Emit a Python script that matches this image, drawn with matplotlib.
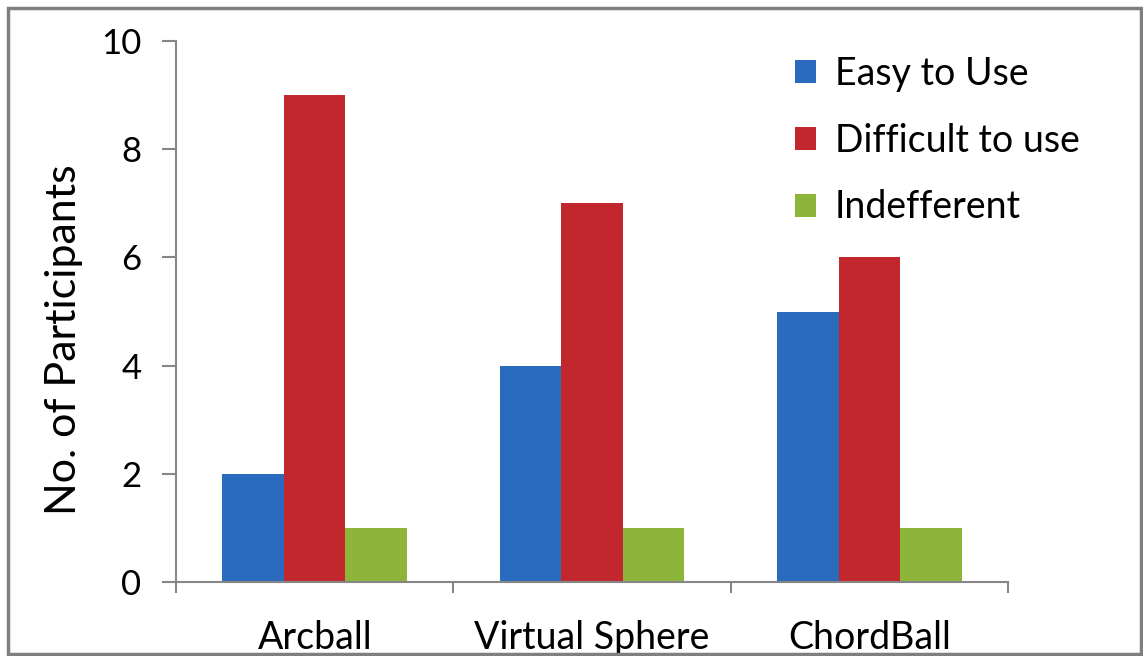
import numpy as np
import matplotlib
matplotlib.use("Agg")
import matplotlib.pyplot as plt
from matplotlib.patches import Rectangle

plt.rcParams['font.family'] = ['Lato', 'DejaVu Sans']

# survey results per rotation technique
techniques = ['Arcball', 'Virtual Sphere', 'ChordBall']
easy = [2, 4, 5]
difficult = [9, 7, 6]
indifferent = [1, 1, 1]
series_names = ['Easy to Use', 'Difficult to use', 'Indefferent']
colors = ['#2B6BBE', '#C1272D', '#8CB53A']
yticks = [0, 2, 4, 6, 8, 10]

fig = plt.figure(figsize=(11.43, 6.56), dpi=100)
ax = fig.add_axes([0.154, 0.1128, 0.728, 0.8247])

x = np.arange(len(techniques))
w = 0.222
for i, (vals, name, c) in enumerate(zip([easy, difficult, indifferent], series_names, colors)):
    ax.bar(x + (i - 1) * w, vals, width=w, color=c, label=name, linewidth=0)

ax.set_xlim(-0.5, len(techniques) - 0.5)
ax.set_ylim(0, 10)
ax.set_yticks(yticks)
ax.set_yticklabels([str(v) for v in yticks], fontsize=25)

# category ticks sit on the boundaries, labels in the middle
ax.set_xticks(np.arange(len(techniques) + 1) - 0.5)
ax.set_xticklabels([])
ax.set_xticks(x, minor=True)
ax.set_xticklabels(techniques, minor=True, fontsize=27)
ax.tick_params(axis='x', which='minor', length=0, pad=27)
ax.tick_params(axis='x', which='major', length=8, width=1.5, color='#868686', direction='out')
ax.tick_params(axis='y', length=10, width=1.5, color='#868686', direction='out', pad=15)

for side in ['top', 'right']:
    ax.spines[side].set_visible(False)
for side in ['left', 'bottom']:
    ax.spines[side].set_color('#868686')
    ax.spines[side].set_linewidth(1.5)

ax.set_ylabel('No. of Participants', fontsize=31)
ax.yaxis.set_label_coords(-0.112, 0.447)

ax.legend(loc='upper left', bbox_to_anchor=(0.726, 1.0), frameon=False,
          fontsize=27, handlelength=0.55, handleheight=0.55, handletextpad=0.5,
          labelspacing=0.82, borderaxespad=0)

# outer chart frame
fig.patches.append(Rectangle((8 / 1143, 2 / 656), 1133 / 1143, 646 / 656,
                             transform=fig.transFigure, fill=False,
                             edgecolor='#7F7F7F', linewidth=2.5))

fig.savefig('out.png', dpi=100, facecolor='white')
